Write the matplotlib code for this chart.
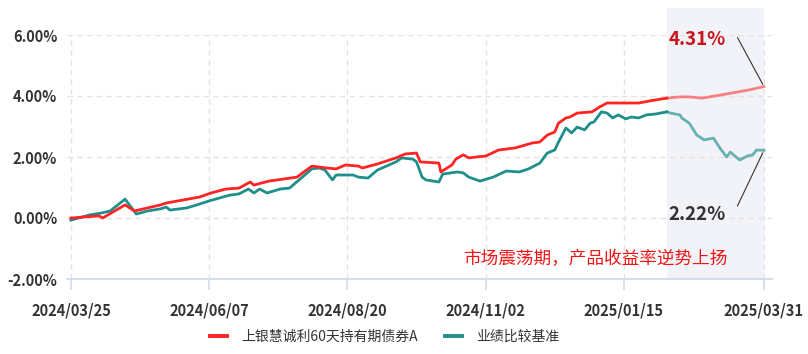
import matplotlib
matplotlib.use('Agg')
import matplotlib.pyplot as plt
import matplotlib.dates as mdates
from matplotlib.lines import Line2D
import numpy as np
import pandas as pd

plt.rcParams['font.family'] = ['Noto Sans CJK SC', 'DejaVu Sans']

# --- datos ---
fondo_nombre = '上银慧诚利60天持有期债券A'
base_nombre = '业绩比较基准'
leyenda_texto = '市场震荡期，产品收益率逆势上扬'

fondo_fechas = [
    '2024-03-25', '2024-04-09', '2024-04-11', '2024-04-23', '2024-04-28', '2024-05-12',
    '2024-05-15', '2024-06-02', '2024-06-08', '2024-06-16', '2024-06-23', '2024-06-29',
    '2024-07-01', '2024-07-09', '2024-07-24', '2024-07-27', '2024-08-01', '2024-08-09',
    '2024-08-14', '2024-08-19', '2024-08-26', '2024-08-28', '2024-09-05', '2024-09-15',
    '2024-09-20', '2024-09-26', '2024-09-28', '2024-10-08', '2024-10-09', '2024-10-15',
    '2024-10-17', '2024-10-21', '2024-10-24', '2024-10-28', '2024-11-02', '2024-11-09',
    '2024-11-18', '2024-11-27', '2024-12-01', '2024-12-05', '2024-12-09', '2024-12-11',
    '2024-12-15', '2024-12-17', '2024-12-21', '2024-12-29', '2025-01-02', '2025-01-06',
    '2025-01-14', '2025-01-23', '2025-01-29', '2025-02-07', '2025-02-14', '2025-02-19',
    '2025-02-26', '2025-03-14', '2025-03-23', '2025-03-31']
fondo_valores = [
    0.00, 0.07, 0.00, 0.43, 0.23, 0.43,
    0.49, 0.69, 0.82, 0.95, 0.98, 1.18,
    1.08, 1.21, 1.34, 1.48, 1.70, 1.64,
    1.61, 1.74, 1.70, 1.64, 1.77, 1.97,
    2.10, 2.13, 1.84, 1.80, 1.51, 1.74,
    1.93, 2.07, 1.97, 2.00, 2.03, 2.23,
    2.30, 2.46, 2.49, 2.72, 2.82, 3.11,
    3.28, 3.31, 3.44, 3.48, 3.64, 3.77,
    3.77, 3.77, 3.84, 3.93, 3.97, 3.97,
    3.93, 4.10, 4.20, 4.31]

base_fechas = [
    '2024-03-25', '2024-04-04', '2024-04-10', '2024-04-15', '2024-04-23', '2024-04-29',
    '2024-05-05', '2024-05-12', '2024-05-15', '2024-05-17', '2024-05-26', '2024-06-02',
    '2024-06-07', '2024-06-18', '2024-06-23', '2024-06-28', '2024-07-01', '2024-07-04',
    '2024-07-08', '2024-07-15', '2024-07-20', '2024-08-01', '2024-08-05', '2024-08-08',
    '2024-08-12', '2024-08-14', '2024-08-23', '2024-08-26', '2024-08-31', '2024-09-05',
    '2024-09-15', '2024-09-18', '2024-09-24', '2024-09-26', '2024-09-29', '2024-10-01',
    '2024-10-08', '2024-10-10', '2024-10-18', '2024-10-21', '2024-10-24', '2024-10-30',
    '2024-11-06', '2024-11-13', '2024-11-20', '2024-11-25', '2024-12-01', '2024-12-05',
    '2024-12-09', '2024-12-11', '2024-12-15', '2024-12-18', '2024-12-21', '2024-12-25',
    '2024-12-28', '2024-12-30', '2025-01-03', '2025-01-06', '2025-01-09', '2025-01-12',
    '2025-01-16', '2025-01-19', '2025-01-23', '2025-01-27', '2025-02-01', '2025-02-07',
    '2025-02-09', '2025-02-14', '2025-02-15', '2025-02-19', '2025-02-23', '2025-02-27',
    '2025-03-04', '2025-03-07', '2025-03-11', '2025-03-13', '2025-03-18', '2025-03-22',
    '2025-03-25', '2025-03-27', '2025-03-31']
base_valores = [
    -0.07, 0.10, 0.16, 0.23, 0.62, 0.13,
    0.23, 0.30, 0.36, 0.26, 0.33, 0.46,
    0.56, 0.75, 0.79, 0.95, 0.82, 0.95,
    0.82, 0.95, 0.98, 1.61, 1.64, 1.57,
    1.25, 1.41, 1.41, 1.34, 1.31, 1.57,
    1.84, 1.97, 1.93, 1.84, 1.34, 1.25,
    1.18, 1.44, 1.51, 1.48, 1.34, 1.21,
    1.34, 1.54, 1.51, 1.61, 1.80, 2.13,
    2.23, 2.49, 2.95, 2.79, 2.98, 2.89,
    3.11, 3.15, 3.48, 3.44, 3.28, 3.38,
    3.25, 3.31, 3.28, 3.38, 3.41, 3.48,
    3.44, 3.38, 3.28, 3.11, 2.72, 2.56,
    2.62, 2.33, 2.00, 2.16, 1.90, 2.03,
    2.07, 2.23, 2.22]

ticks_x = ['2024-03-25', '2024-06-07', '2024-08-20', '2024-11-02', '2025-01-15', '2025-03-31']
ticks_y = [-2, 0, 2, 4, 6]
inicio_sombra = '2025-02-07'
fin_sombra = '2025-03-31'

# --- gráfico ---
rojo = '#ff2424'
verde = '#1e8f8b'

fig = plt.figure(figsize=(8.08, 3.54), dpi=100)
ax = fig.add_axes([67 / 808, 75 / 354, 705 / 808, 244 / 354])

f_fechas = pd.to_datetime(fondo_fechas)
b_fechas = pd.to_datetime(base_fechas)
f_val = np.array(fondo_valores)
b_val = np.array(base_valores)
corte = pd.Timestamp(inicio_sombra)

ax.axvspan(corte, pd.Timestamp(fin_sombra), ymin=0, ymax=1.11, color='#f1f3f9',
           zorder=0, clip_on=False, lw=0)

# la parte sombreada va con trazo más claro
for fechas, vals, color, alfa in [(b_fechas, b_val, verde, 0.65), (f_fechas, f_val, rojo, 0.55)]:
    antes = fechas <= corte
    despues = fechas >= corte
    ax.plot(fechas[antes], vals[antes], color=color, lw=2.0, zorder=3, solid_joinstyle='round')
    ax.plot(fechas[despues], vals[despues], color=color, lw=2.0, alpha=alfa, zorder=3,
            solid_joinstyle='round')

ax.set_ylim(-2, 6)
ax.set_xlim(pd.Timestamp('2024-03-25') - pd.Timedelta(days=2.1),
            pd.Timestamp('2025-03-31') + pd.Timedelta(days=4.3))

ax.set_yticks(ticks_y)
ax.set_yticklabels([f'{v:.2f}%' for v in ticks_y])
ax.set_xticks(pd.to_datetime(ticks_x))
ax.xaxis.set_major_formatter(mdates.DateFormatter('%Y/%m/%d'))

ax.grid(True, linestyle=(0, (4, 3)), color='#e3e3e3', lw=1.0, zorder=1)
ax.set_axisbelow(True)
for lado in ['top', 'right', 'left']:
    ax.spines[lado].set_visible(False)
ax.spines['bottom'].set_color('#d2daec')
ax.spines['bottom'].set_linewidth(1.3)

ax.tick_params(axis='y', length=0, pad=7, labelsize=10.5, labelcolor='#333333')
ax.tick_params(axis='x', length=8, width=1.2, color='#d2daec', pad=9, labelsize=10.5,
               labelcolor='#333333')
for lab in ax.get_xticklabels() + ax.get_yticklabels():
    lab.set_fontweight('bold')

# etiquetas del último valor
fin = pd.Timestamp(fin_sombra)
ax.annotate('', xy=(fin, f_val[-1]), xytext=(-20, 37), textcoords='offset points',
            arrowprops=dict(arrowstyle='-', color='#333333', lw=0.8))
ax.annotate(f'{f_val[-1]:.2f}%', xy=(fin, f_val[-1]), xytext=(-69, 34), textcoords='offset points',
            ha='left', va='center', fontsize=13.5, fontweight='bold', color='#c8141c')
ax.annotate('', xy=(fin, b_val[-1]), xytext=(-20, -42), textcoords='offset points',
            arrowprops=dict(arrowstyle='-', color='#333333', lw=0.8))
ax.annotate(f'{b_val[-1]:.2f}%', xy=(fin, b_val[-1]), xytext=(-69, -46), textcoords='offset points',
            ha='left', va='center', fontsize=13.5, fontweight='bold', color='#333333')

ax.text(0.749, 0.082, leyenda_texto, transform=ax.transAxes, ha='center', va='center',
        fontsize=12.7, color='#f01414')

# leyenda
manejadores = [Line2D([], [], color=rojo, lw=2.8), Line2D([], [], color=verde, lw=2.8)]
fig.legend(manejadores, [fondo_nombre, base_nombre], loc='center', bbox_to_anchor=(0.476, 0.048),
           ncol=2, frameon=False, fontsize=10, handlelength=1.2, handletextpad=1.0,
           columnspacing=2.0, labelcolor='#333333')

fig.savefig('out.png', dpi=100)
